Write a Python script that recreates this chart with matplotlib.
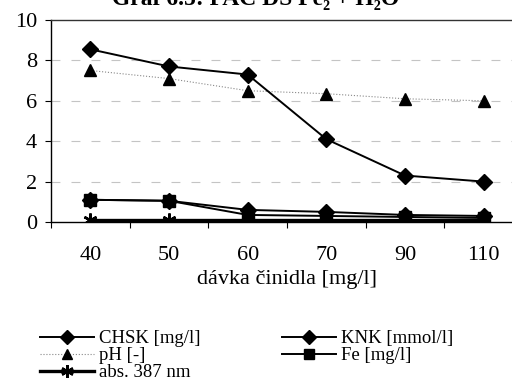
import matplotlib
matplotlib.use("Agg")
import matplotlib.pyplot as plt
from matplotlib.lines import Line2D
import numpy as np

plt.rcParams['font.family'] = ['Liberation Serif', 'DejaVu Serif']

categories = ["40", "50", "60", "70", "90", "110"]
chsk = [8.55, 7.7, 7.3, 4.1, 2.3, 2.0]
ph = [7.5, 7.1, 6.5, 6.35, 6.1, 6.0]
knk = [1.1, 1.05, 0.6, 0.5, 0.35, 0.3]
fe = [1.1, 1.05, 0.35, 0.3, 0.25, 0.2]
absorb = [0.1, 0.1, 0.1, 0.1, 0.1, 0.1]
yticks = [0, 2, 4, 6, 8, 10]

fig = plt.figure(figsize=(5.12, 3.92), dpi=100)
ax = fig.add_axes([51/512, 1-222/392, 472/512, 202/392])
x = np.arange(len(categories))

for g in [2, 4, 6, 8]:
    ax.axhline(g, color='#c4c4c4', lw=0.8, ls=(0, (8, 10)), zorder=0)

ax.plot(x, chsk, color='black', lw=1.4, marker='D', ms=8, zorder=4)
ax.plot(x, ph, color='#888888', lw=0.8, ls=':', marker='^', ms=8, mfc='black', mec='black', zorder=3)
ax.plot(x, knk, color='black', lw=1.4, marker='D', ms=8, zorder=4)
ax.plot(x, fe, color='black', lw=1.4, marker='s', ms=8, zorder=4)
ax.plot(x, absorb, color='black', lw=2.4, marker=(6, 2, 0), ms=10, mew=1.8, zorder=5)

ax.set_xlim(-0.5, 5.5)
ax.set_ylim(0, 10)
ax.set_yticks(yticks)
ax.set_yticklabels([str(t) for t in yticks], fontsize=16)
ax.set_xticks(x)
ax.set_xticklabels(categories, fontsize=16)
ax.tick_params(axis='x', length=0, pad=17)
ax.set_xticks(np.arange(-0.5, 5.6, 1), minor=True)
ax.tick_params(axis='x', which='minor', length=4, direction='out', width=0.8)
ax.tick_params(axis='y', length=4, direction='out', width=0.8, pad=6)
for s in ['left', 'bottom', 'top']:
    ax.spines[s].set_linewidth(1.0)
ax.spines['top'].set_color('#333333')
ax.spines['right'].set_visible(False)
ax.set_xlabel("dávka činidla [mg/l]", fontsize=16, labelpad=4)

fig.text(0.5, 1.0, "Graf 6.5: PAC DS Fe₂ + H₂O", ha='center', va='center',
         fontsize=17, fontweight='bold')

handles = [
    Line2D([], [], color='black', lw=1.4, marker='D', ms=7),
    Line2D([], [], color='#888888', lw=0.8, ls=':', marker='^', ms=7, mfc='black', mec='black'),
    Line2D([], [], color='black', lw=2.4, marker=(6, 2, 0), ms=9, mew=1.8),
    Line2D([], [], color='black', lw=1.4, marker='D', ms=7),
    Line2D([], [], color='black', lw=1.4, marker='s', ms=7),
]
labels = ["CHSK [mg/l]", "pH [-]", "abs. 387 nm", "KNK [mmol/l]", "Fe [mg/l]"]
kw = dict(frameon=False, fontsize=13.5, handlelength=2.9, handletextpad=0.25,
          labelspacing=0.0, borderpad=0, borderaxespad=0)
fig.legend(handles[:3], labels[:3], loc='upper left', bbox_to_anchor=(40/512, 1-330/392), **kw)
fig.legend(handles[3:], labels[3:], loc='upper left', bbox_to_anchor=(282/512, 1-330/392), **kw)

fig.savefig("out.png", dpi=100)
